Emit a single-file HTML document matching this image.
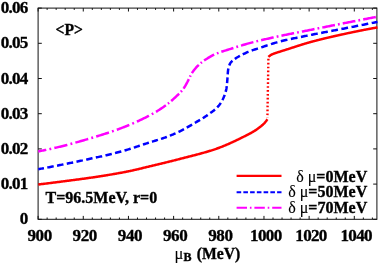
<!DOCTYPE html>
<html><head><meta charset="utf-8"><style>
html,body{margin:0;padding:0;background:#fff;}
svg{display:block;will-change:transform;}
text{font-family:"Liberation Serif",serif;font-weight:bold;font-size:15.3px;fill:#000;stroke:#000;stroke-width:0.35px;}
.ax{font-size:17.6px;}
.sym{font-weight:normal;stroke-width:0.1px;}
</style></head><body>
<svg width="382" height="267" viewBox="0 0 382 267">
<rect width="382" height="267" fill="#fff"/>
<g stroke="#111" stroke-width="1" fill="none">
<rect x="38.1" y="8.1" width="338.79999999999995" height="211.20000000000002" stroke-width="1"/>
<line x1="38.10" y1="219.3" x2="38.10" y2="215.9"/>
<line x1="38.10" y1="8.1" x2="38.10" y2="11.5"/>
<line x1="47.13" y1="219.3" x2="47.13" y2="217.5"/>
<line x1="47.13" y1="8.1" x2="47.13" y2="9.9"/>
<line x1="56.17" y1="219.3" x2="56.17" y2="217.5"/>
<line x1="56.17" y1="8.1" x2="56.17" y2="9.9"/>
<line x1="65.20" y1="219.3" x2="65.20" y2="217.5"/>
<line x1="65.20" y1="8.1" x2="65.20" y2="9.9"/>
<line x1="74.24" y1="219.3" x2="74.24" y2="217.5"/>
<line x1="74.24" y1="8.1" x2="74.24" y2="9.9"/>
<line x1="83.27" y1="219.3" x2="83.27" y2="215.9"/>
<line x1="83.27" y1="8.1" x2="83.27" y2="11.5"/>
<line x1="92.31" y1="219.3" x2="92.31" y2="217.5"/>
<line x1="92.31" y1="8.1" x2="92.31" y2="9.9"/>
<line x1="101.34" y1="219.3" x2="101.34" y2="217.5"/>
<line x1="101.34" y1="8.1" x2="101.34" y2="9.9"/>
<line x1="110.38" y1="219.3" x2="110.38" y2="217.5"/>
<line x1="110.38" y1="8.1" x2="110.38" y2="9.9"/>
<line x1="119.41" y1="219.3" x2="119.41" y2="217.5"/>
<line x1="119.41" y1="8.1" x2="119.41" y2="9.9"/>
<line x1="128.45" y1="219.3" x2="128.45" y2="215.9"/>
<line x1="128.45" y1="8.1" x2="128.45" y2="11.5"/>
<line x1="137.48" y1="219.3" x2="137.48" y2="217.5"/>
<line x1="137.48" y1="8.1" x2="137.48" y2="9.9"/>
<line x1="146.52" y1="219.3" x2="146.52" y2="217.5"/>
<line x1="146.52" y1="8.1" x2="146.52" y2="9.9"/>
<line x1="155.55" y1="219.3" x2="155.55" y2="217.5"/>
<line x1="155.55" y1="8.1" x2="155.55" y2="9.9"/>
<line x1="164.59" y1="219.3" x2="164.59" y2="217.5"/>
<line x1="164.59" y1="8.1" x2="164.59" y2="9.9"/>
<line x1="173.62" y1="219.3" x2="173.62" y2="215.9"/>
<line x1="173.62" y1="8.1" x2="173.62" y2="11.5"/>
<line x1="182.65" y1="219.3" x2="182.65" y2="217.5"/>
<line x1="182.65" y1="8.1" x2="182.65" y2="9.9"/>
<line x1="191.69" y1="219.3" x2="191.69" y2="217.5"/>
<line x1="191.69" y1="8.1" x2="191.69" y2="9.9"/>
<line x1="200.72" y1="219.3" x2="200.72" y2="217.5"/>
<line x1="200.72" y1="8.1" x2="200.72" y2="9.9"/>
<line x1="209.76" y1="219.3" x2="209.76" y2="217.5"/>
<line x1="209.76" y1="8.1" x2="209.76" y2="9.9"/>
<line x1="218.79" y1="219.3" x2="218.79" y2="215.9"/>
<line x1="218.79" y1="8.1" x2="218.79" y2="11.5"/>
<line x1="227.83" y1="219.3" x2="227.83" y2="217.5"/>
<line x1="227.83" y1="8.1" x2="227.83" y2="9.9"/>
<line x1="236.86" y1="219.3" x2="236.86" y2="217.5"/>
<line x1="236.86" y1="8.1" x2="236.86" y2="9.9"/>
<line x1="245.90" y1="219.3" x2="245.90" y2="217.5"/>
<line x1="245.90" y1="8.1" x2="245.90" y2="9.9"/>
<line x1="254.93" y1="219.3" x2="254.93" y2="217.5"/>
<line x1="254.93" y1="8.1" x2="254.93" y2="9.9"/>
<line x1="263.97" y1="219.3" x2="263.97" y2="215.9"/>
<line x1="263.97" y1="8.1" x2="263.97" y2="11.5"/>
<line x1="273.00" y1="219.3" x2="273.00" y2="217.5"/>
<line x1="273.00" y1="8.1" x2="273.00" y2="9.9"/>
<line x1="282.04" y1="219.3" x2="282.04" y2="217.5"/>
<line x1="282.04" y1="8.1" x2="282.04" y2="9.9"/>
<line x1="291.07" y1="219.3" x2="291.07" y2="217.5"/>
<line x1="291.07" y1="8.1" x2="291.07" y2="9.9"/>
<line x1="300.11" y1="219.3" x2="300.11" y2="217.5"/>
<line x1="300.11" y1="8.1" x2="300.11" y2="9.9"/>
<line x1="309.14" y1="219.3" x2="309.14" y2="215.9"/>
<line x1="309.14" y1="8.1" x2="309.14" y2="11.5"/>
<line x1="318.17" y1="219.3" x2="318.17" y2="217.5"/>
<line x1="318.17" y1="8.1" x2="318.17" y2="9.9"/>
<line x1="327.21" y1="219.3" x2="327.21" y2="217.5"/>
<line x1="327.21" y1="8.1" x2="327.21" y2="9.9"/>
<line x1="336.24" y1="219.3" x2="336.24" y2="217.5"/>
<line x1="336.24" y1="8.1" x2="336.24" y2="9.9"/>
<line x1="345.28" y1="219.3" x2="345.28" y2="217.5"/>
<line x1="345.28" y1="8.1" x2="345.28" y2="9.9"/>
<line x1="354.31" y1="219.3" x2="354.31" y2="215.9"/>
<line x1="354.31" y1="8.1" x2="354.31" y2="11.5"/>
<line x1="363.35" y1="219.3" x2="363.35" y2="217.5"/>
<line x1="363.35" y1="8.1" x2="363.35" y2="9.9"/>
<line x1="372.38" y1="219.3" x2="372.38" y2="217.5"/>
<line x1="372.38" y1="8.1" x2="372.38" y2="9.9"/>
<line x1="38.1" y1="219.30" x2="41.800000000000004" y2="219.30"/>
<line x1="376.9" y1="219.30" x2="373.2" y2="219.30"/>
<line x1="38.1" y1="184.10" x2="41.800000000000004" y2="184.10"/>
<line x1="376.9" y1="184.10" x2="373.2" y2="184.10"/>
<line x1="38.1" y1="148.90" x2="41.800000000000004" y2="148.90"/>
<line x1="376.9" y1="148.90" x2="373.2" y2="148.90"/>
<line x1="38.1" y1="113.70" x2="41.800000000000004" y2="113.70"/>
<line x1="376.9" y1="113.70" x2="373.2" y2="113.70"/>
<line x1="38.1" y1="78.50" x2="41.800000000000004" y2="78.50"/>
<line x1="376.9" y1="78.50" x2="373.2" y2="78.50"/>
<line x1="38.1" y1="43.30" x2="41.800000000000004" y2="43.30"/>
<line x1="376.9" y1="43.30" x2="373.2" y2="43.30"/>
<line x1="38.1" y1="8.10" x2="41.800000000000004" y2="8.10"/>
<line x1="376.9" y1="8.10" x2="373.2" y2="8.10"/>
</g>
<g fill="none" stroke-width="2.5" >
<path d="M38.30,184.50 L39.10,184.40 L39.90,184.31 L40.71,184.21 L41.51,184.11 L42.31,184.01 L43.11,183.91 L43.91,183.81 L44.72,183.71 L45.52,183.62 L46.32,183.52 L47.12,183.42 L47.92,183.32 L48.73,183.22 L49.53,183.12 L50.33,183.01 L51.13,182.91 L51.93,182.81 L52.73,182.71 L53.54,182.61 L54.34,182.51 L55.14,182.41 L55.94,182.31 L56.74,182.20 L57.54,182.10 L58.34,182.00 L59.15,181.90 L59.95,181.79 L60.75,181.69 L61.55,181.59 L62.35,181.48 L63.15,181.38 L63.95,181.28 L64.76,181.17 L65.56,181.07 L66.36,180.96 L67.16,180.86 L67.96,180.76 L68.76,180.65 L69.56,180.55 L70.36,180.44 L71.17,180.34 L71.97,180.23 L72.77,180.13 L73.57,180.02 L74.37,179.91 L75.17,179.81 L75.97,179.70 L76.77,179.60 L77.57,179.49 L78.38,179.39 L79.18,179.28 L79.98,179.18 L80.78,179.07 L81.58,178.97 L82.38,178.86 L83.18,178.75 L83.98,178.64 L84.78,178.54 L85.58,178.43 L86.38,178.32 L87.19,178.20 L87.99,178.09 L88.78,177.98 L89.58,177.86 L90.38,177.74 L91.18,177.63 L91.98,177.51 L92.78,177.39 L93.58,177.27 L94.38,177.15 L95.18,177.03 L95.98,176.91 L96.78,176.79 L97.58,176.66 L98.37,176.54 L99.17,176.42 L99.97,176.29 L100.77,176.17 L101.57,176.05 L102.37,175.92 L103.17,175.79 L103.97,175.67 L104.76,175.54 L105.56,175.41 L106.36,175.28 L107.16,175.15 L107.96,175.02 L108.75,174.89 L109.55,174.76 L110.35,174.62 L111.15,174.49 L111.94,174.36 L112.74,174.22 L113.54,174.08 L114.33,173.94 L115.13,173.81 L115.93,173.67 L116.72,173.53 L117.52,173.38 L118.31,173.24 L119.11,173.10 L119.90,172.95 L120.70,172.81 L121.49,172.66 L122.28,172.51 L123.08,172.36 L123.87,172.21 L124.66,172.06 L125.45,171.91 L126.25,171.75 L127.04,171.59 L127.83,171.44 L128.62,171.27 L129.41,171.11 L130.20,170.94 L130.99,170.77 L131.78,170.60 L132.57,170.42 L133.36,170.25 L134.14,170.07 L134.93,169.89 L135.72,169.71 L136.51,169.53 L137.29,169.34 L138.08,169.16 L138.87,168.97 L139.65,168.78 L140.44,168.60 L141.23,168.41 L142.01,168.22 L142.80,168.03 L143.59,167.84 L144.37,167.65 L145.16,167.46 L145.94,167.27 L146.73,167.08 L147.51,166.89 L148.30,166.71 L149.09,166.52 L149.87,166.33 L150.66,166.14 L151.45,165.96 L152.23,165.77 L153.02,165.58 L153.80,165.40 L154.59,165.21 L155.37,165.02 L156.16,164.83 L156.95,164.64 L157.73,164.45 L158.52,164.26 L159.30,164.07 L160.09,163.88 L160.87,163.69 L161.66,163.50 L162.44,163.31 L163.23,163.12 L164.01,162.93 L164.80,162.74 L165.58,162.54 L166.37,162.35 L167.15,162.16 L167.94,161.96 L168.72,161.77 L169.51,161.57 L170.29,161.38 L171.07,161.18 L171.86,160.98 L172.64,160.79 L173.42,160.59 L174.21,160.39 L174.99,160.19 L175.77,159.99 L176.56,159.79 L177.34,159.59 L178.12,159.39 L178.90,159.19 L179.68,158.98 L180.47,158.78 L181.25,158.58 L182.03,158.37 L182.82,158.17 L183.60,157.97 L184.38,157.77 L185.17,157.57 L185.95,157.37 L186.74,157.17 L187.52,156.97 L188.31,156.77 L189.09,156.57 L189.88,156.37 L190.67,156.17 L191.45,155.97 L192.24,155.77 L193.02,155.57 L193.81,155.37 L194.59,155.17 L195.38,154.96 L196.16,154.76 L196.95,154.55 L197.73,154.34 L198.51,154.14 L199.30,153.93 L200.08,153.72 L200.86,153.50 L201.64,153.29 L202.42,153.08 L203.20,152.86 L203.98,152.64 L204.75,152.42 L205.53,152.20 L206.31,151.97 L207.08,151.74 L207.85,151.51 L208.62,151.28 L209.40,151.05 L210.17,150.81 L210.93,150.57 L211.70,150.33 L212.47,150.08 L213.23,149.83 L213.99,149.58 L214.75,149.33 L215.51,149.07 L216.27,148.81 L217.03,148.54 L217.78,148.27 L218.54,147.99 L219.29,147.71 L220.04,147.43 L220.79,147.14 L221.54,146.85 L222.29,146.55 L223.04,146.25 L223.79,145.95 L224.54,145.64 L225.28,145.33 L226.03,145.02 L226.77,144.70 L227.52,144.38 L228.26,144.05 L229.00,143.73 L229.74,143.40 L230.48,143.06 L231.22,142.73 L231.96,142.39 L232.69,142.05 L233.43,141.71 L234.16,141.37 L234.90,141.02 L235.63,140.67 L236.36,140.32 L237.09,139.97 L237.82,139.61 L238.55,139.26 L239.28,138.90 L240.01,138.55 L240.74,138.19 L241.46,137.83 L242.19,137.47 L242.91,137.11 L243.64,136.74 L244.36,136.38 L245.08,136.02 L245.80,135.65 L246.52,135.29 L247.24,134.93 L247.96,134.56 L248.68,134.19 L249.40,133.81 L250.11,133.43 L250.83,133.05 L251.54,132.66 L252.24,132.26 L252.94,131.86 L253.64,131.45 L254.32,131.03 L255.00,130.60 L255.68,130.16 L256.35,129.72 L257.02,129.26 L257.69,128.80 L258.35,128.33 L259.01,127.85 L259.66,127.36 L260.30,126.86 L260.93,126.35 L261.55,125.83 L262.15,125.31 L262.75,124.77 L263.33,124.22 L263.91,123.64 L264.47,123.05 L265.01,122.45 L265.53,121.83 L266.03,121.20 L266.51,120.55 L266.96,119.88 L267.40,119.20" stroke="#ff0000"/>
<path d="M268.40,56.90 L268.68,56.63 L268.97,56.37 L269.26,56.12 L269.55,55.88 L269.86,55.65 L270.16,55.43 L270.48,55.22 L270.79,55.02 L271.11,54.84 L271.45,54.66 L271.79,54.50 L272.13,54.34 L272.48,54.19 L272.84,54.05 L273.19,53.91 L273.55,53.77 L273.91,53.64 L274.26,53.50 L274.62,53.37 L274.97,53.24 L275.33,53.12 L275.69,52.99 L276.05,52.87 L276.41,52.75 L276.77,52.63 L277.13,52.52 L277.49,52.40 L277.85,52.28 L278.21,52.17 L278.58,52.05 L278.94,51.94 L279.30,51.83 L279.66,51.71 L280.02,51.59 L280.38,51.48 L280.74,51.36 L281.11,51.24 L281.47,51.13 L281.83,51.01 L282.19,50.90 L282.55,50.78 L282.91,50.67 L283.28,50.56 L283.64,50.44 L284.00,50.33 L284.36,50.21 L284.72,50.10 L285.09,49.99 L285.45,49.87 L285.81,49.76 L286.17,49.65 L286.53,49.53 L286.89,49.42 L287.26,49.30 L287.62,49.19 L287.98,49.07 L288.34,48.96 L288.70,48.84 L289.06,48.72 L289.42,48.61 L289.79,48.49 L290.15,48.37 L290.51,48.26 L290.87,48.14 L291.23,48.02 L291.59,47.91 L291.95,47.79 L292.31,47.67 L292.68,47.55 L293.04,47.44 L293.40,47.32 L293.76,47.20 L294.12,47.09 L294.48,46.97 L294.84,46.85 L295.20,46.73 L295.56,46.62 L295.92,46.50 L296.29,46.38 L296.65,46.27 L297.01,46.15 L297.37,46.03 L297.73,45.92 L298.09,45.80 L298.45,45.68 L298.82,45.57 L299.18,45.45 L299.54,45.34 L299.90,45.22 L300.26,45.11 L300.62,44.99 L300.99,44.88 L301.35,44.77 L301.71,44.65 L302.07,44.54 L302.43,44.43 L302.80,44.31 L303.16,44.20 L303.52,44.09 L303.88,43.98 L304.25,43.87 L304.61,43.76 L304.97,43.65 L305.34,43.54 L305.70,43.43 L306.06,43.33 L306.43,43.22 L306.79,43.11 L307.15,43.01 L307.52,42.90 L307.88,42.80 L308.25,42.69 L308.61,42.59 L308.98,42.48 L309.34,42.38 L309.71,42.28 L310.07,42.18 L310.44,42.08 L310.80,41.98 L311.17,41.88 L311.53,41.78 L311.90,41.68 L312.26,41.58 L312.63,41.49 L313.00,41.39 L313.36,41.29 L313.73,41.19 L314.10,41.10 L314.46,41.00 L314.83,40.90 L315.20,40.81 L315.56,40.71 L315.93,40.61 L316.30,40.52 L316.66,40.42 L317.03,40.33 L317.40,40.24 L317.77,40.14 L318.13,40.05 L318.50,39.95 L318.87,39.86 L319.24,39.77 L319.60,39.67 L319.97,39.58 L320.34,39.49 L320.71,39.40 L321.08,39.31 L321.45,39.21 L321.81,39.12 L322.18,39.03 L322.55,38.94 L322.92,38.85 L323.29,38.76 L323.66,38.67 L324.03,38.58 L324.40,38.49 L324.76,38.40 L325.13,38.31 L325.50,38.22 L325.87,38.14 L326.24,38.05 L326.61,37.96 L326.98,37.87 L327.35,37.78 L327.72,37.70 L328.09,37.61 L328.46,37.52 L328.83,37.44 L329.20,37.35 L329.57,37.26 L329.94,37.18 L330.31,37.09 L330.68,37.00 L331.05,36.92 L331.42,36.83 L331.79,36.75 L332.16,36.66 L332.53,36.58 L332.90,36.49 L333.27,36.41 L333.64,36.32 L334.01,36.24 L334.38,36.16 L334.75,36.07 L335.12,35.99 L335.49,35.91 L335.86,35.82 L336.23,35.74 L336.60,35.66 L336.97,35.57 L337.34,35.49 L337.71,35.41 L338.08,35.33 L338.45,35.24 L338.82,35.16 L339.19,35.08 L339.56,35.00 L339.93,34.92 L340.30,34.83 L340.67,34.75 L341.04,34.67 L341.41,34.59 L341.78,34.51 L342.15,34.43 L342.52,34.35 L342.89,34.27 L343.26,34.19 L343.63,34.11 L344.00,34.03 L344.37,33.94 L344.74,33.86 L345.11,33.78 L345.49,33.71 L345.86,33.63 L346.23,33.55 L346.60,33.47 L346.97,33.39 L347.34,33.31 L347.71,33.23 L348.08,33.15 L348.45,33.07 L348.82,32.99 L349.19,32.91 L349.57,32.84 L349.94,32.76 L350.31,32.68 L350.68,32.60 L351.05,32.52 L351.42,32.45 L351.79,32.37 L352.16,32.29 L352.54,32.21 L352.91,32.14 L353.28,32.06 L353.65,31.98 L354.02,31.91 L354.39,31.83 L354.76,31.75 L355.14,31.68 L355.51,31.60 L355.88,31.52 L356.25,31.45 L356.62,31.37 L356.99,31.30 L357.37,31.22 L357.74,31.15 L358.11,31.07 L358.48,31.00 L358.85,30.92 L359.23,30.85 L359.60,30.77 L359.97,30.70 L360.34,30.63 L360.71,30.55 L361.09,30.48 L361.46,30.40 L361.83,30.33 L362.20,30.26 L362.58,30.18 L362.95,30.11 L363.32,30.04 L363.69,29.97 L364.07,29.89 L364.44,29.82 L364.81,29.75 L365.18,29.68 L365.56,29.60 L365.93,29.53 L366.30,29.46 L366.67,29.39 L367.05,29.32 L367.42,29.25 L367.79,29.18 L368.17,29.11 L368.54,29.04 L368.91,28.97 L369.28,28.90 L369.66,28.83 L370.03,28.76 L370.40,28.69 L370.78,28.62 L371.15,28.55 L371.52,28.48 L371.90,28.41 L372.27,28.34 L372.64,28.27 L373.02,28.20 L373.39,28.14 L373.76,28.07 L374.14,28.00 L374.51,27.93 L374.88,27.87 L375.26,27.80 L375.63,27.73 L376.00,27.67 L376.38,27.60 L376.75,27.53 L377.13,27.47 L377.50,27.40" stroke="#ff0000"/>
<path d="M268.4,58.85 L267.4,117.5" stroke="#ff0000" stroke-width="2.4" stroke-dasharray="1.7 2.2"/>
<path d="M38.30,169.20 L39.33,169.01 L40.36,168.82 L41.39,168.64 L42.42,168.45 L43.45,168.26 L43.95,168.16 M47.29,167.54 L48.21,167.36 L49.24,167.17 L50.27,166.97 L51.30,166.77 L52.33,166.57 L53.36,166.37 L53.71,166.30 M57.04,165.65 L57.98,165.47 L59.01,165.26 L60.04,165.06 L61.06,164.86 L62.09,164.65 L63.12,164.44 L63.45,164.38 M66.77,163.70 L67.74,163.51 L68.76,163.30 L69.79,163.09 L70.81,162.87 L71.84,162.66 L72.86,162.45 L73.16,162.39 M76.48,161.69 L77.48,161.48 L78.50,161.27 L79.53,161.05 L80.55,160.83 L81.57,160.61 L82.60,160.40 L82.85,160.34 M86.16,159.63 L87.08,159.43 L88.10,159.21 L89.12,158.99 L90.15,158.77 L91.17,158.55 L92.19,158.32 L92.52,158.25 M95.82,157.53 L96.80,157.32 L97.82,157.10 L98.85,156.87 L99.87,156.64 L100.89,156.42 L101.92,156.19 L102.16,156.13 M105.45,155.39 L106.39,155.17 L107.41,154.94 L108.43,154.70 L109.45,154.46 L110.47,154.21 L111.49,153.97 L111.77,153.90 M115.04,153.09 L116.06,152.83 L117.07,152.57 L118.08,152.31 L119.09,152.04 L120.10,151.77 L121.11,151.50 L121.32,151.44 M124.54,150.52 L125.51,150.23 L126.51,149.93 L127.51,149.63 L128.51,149.32 L129.51,149.01 L130.51,148.69 L130.68,148.64 M133.83,147.62 L134.74,147.32 L135.74,146.99 L136.73,146.66 L137.73,146.33 L138.72,146.00 L139.72,145.67 L139.84,145.63 M142.95,144.60 L143.82,144.31 L144.82,143.98 L145.81,143.65 L146.81,143.33 L147.81,143.00 L148.80,142.68 L148.89,142.65 M151.97,141.68 L152.93,141.39 L153.93,141.08 L154.93,140.78 L155.94,140.47 L156.94,140.17 L157.92,139.87 M160.99,138.91 L161.94,138.60 L162.93,138.27 L163.92,137.93 L164.91,137.59 L165.89,137.23 L166.85,136.87 M169.85,135.71 L170.77,135.34 L171.74,134.94 L172.71,134.53 L173.67,134.12 L174.63,133.70 L175.54,133.30 M178.45,131.96 L179.39,131.51 L180.32,131.05 L181.26,130.58 L182.19,130.11 L183.11,129.62 L183.96,129.17 M186.76,127.62 L187.58,127.15 L188.49,126.63 L189.40,126.10 L190.31,125.57 L191.22,125.05 L192.09,124.54 M194.83,122.94 L195.63,122.48 L196.54,121.95 L197.44,121.42 L198.35,120.89 L199.25,120.36 L200.08,119.87 M202.75,118.23 L203.60,117.69 L204.48,117.12 L205.35,116.55 L206.22,115.96 L207.09,115.37 L207.74,114.91 M210.26,113.11 L211.03,112.55 L211.88,111.93 L212.72,111.31 L213.54,110.66 L214.36,110.01 L214.95,109.50 M217.20,107.43 L217.89,106.70 L218.59,105.92 L219.26,105.10 L219.89,104.26 L220.46,103.40 L220.83,102.82 M222.36,100.18 L222.82,99.29 L223.28,98.34 L223.71,97.38 L224.10,96.42 L224.46,95.45 L224.69,94.81 M225.64,91.92 L225.91,90.94 L226.16,89.92 L226.37,88.90 L226.53,87.87 L226.67,86.84 L226.76,86.18 M227.06,83.15 L227.15,82.15 L227.23,81.10 L227.32,80.05 L227.41,79.01 L227.49,77.96 L227.54,77.32 M227.72,74.28 L227.80,73.24 L227.88,72.19 L227.98,71.16 L228.10,70.13 L228.26,69.10 L228.39,68.47 M229.24,65.56 L229.62,64.61 L230.04,63.69 L230.51,62.85 L231.12,62.06 L231.86,61.31 L232.46,60.79 M234.86,58.95 L235.68,58.37 L236.55,57.80 L237.45,57.26 L238.36,56.73 L239.29,56.22 L239.94,55.87 M242.76,54.41 L243.60,53.99 L244.54,53.53 L245.49,53.08 L246.44,52.64 L247.40,52.21 L248.36,51.80 L248.51,51.74 M251.67,50.51 L252.64,50.18 L253.63,49.85 L254.63,49.54 L255.64,49.23 L256.64,48.91 L257.63,48.59 L257.96,48.49 M261.24,47.40 L262.24,47.06 L263.23,46.73 L264.22,46.39 L265.22,46.06 L266.21,45.72 L267.21,45.39 L267.61,45.26 M270.95,44.16 L271.94,43.84 L272.94,43.53 L273.94,43.22 L274.94,42.92 L275.94,42.62 L276.95,42.33 L277.43,42.19 M280.83,41.29 L281.74,41.06 L282.75,40.81 L283.77,40.56 L284.79,40.32 L285.81,40.09 L286.83,39.85 L287.43,39.72 M290.86,38.96 L291.81,38.76 L292.84,38.54 L293.86,38.33 L294.89,38.12 L295.92,37.91 L296.95,37.70 L297.50,37.59 M300.95,36.90 L301.96,36.70 L302.99,36.50 L304.02,36.29 L305.05,36.09 L306.07,35.89 L307.10,35.68 L307.60,35.58 M311.05,34.89 L311.98,34.70 L313.01,34.50 L314.03,34.29 L315.06,34.09 L316.09,33.89 L317.12,33.69 L317.70,33.57 M321.16,32.91 L322.13,32.72 L323.16,32.52 L324.19,32.33 L325.21,32.13 L326.24,31.93 L327.27,31.74 L327.82,31.64 M331.28,30.98 L332.29,30.79 L333.32,30.59 L334.34,30.39 L335.37,30.20 L336.40,30.00 L337.43,29.80 L337.93,29.70 M341.39,29.03 L342.31,28.85 L343.34,28.65 L344.37,28.45 L345.40,28.25 L346.42,28.04 L347.45,27.84 L348.04,27.73 M351.49,27.05 L352.46,26.86 L353.49,26.66 L354.52,26.45 L355.54,26.25 L356.57,26.05 L357.60,25.85 L358.15,25.74 M361.60,25.06 L362.61,24.86 L363.63,24.66 L364.66,24.45 L365.69,24.25 L366.72,24.04 L367.74,23.84 L368.25,23.74 M371.70,23.06 L372.62,22.87 L373.65,22.67 L374.68,22.46 L375.70,22.26 L376.73,22.05 L377.50,21.90" stroke="#0000ff"/>
<path d="M38.30,151.40 L39.28,151.21 L40.27,151.02 L41.25,150.82 L42.24,150.63 L43.22,150.43 L44.20,150.23 L45.18,150.03 L46.16,149.82 L46.24,149.80 M49.37,149.14 L50.33,148.93 L51.23,148.73 M54.35,148.03 L55.21,147.83 L56.19,147.60 L57.17,147.38 L58.14,147.15 L59.11,146.91 L60.09,146.68 L61.06,146.44 L62.03,146.20 L63.00,145.96 L63.97,145.72 L64.94,145.47 L65.91,145.22 L66.88,144.97 L67.36,144.84 M70.46,144.02 L71.36,143.77 L72.29,143.52 M75.37,142.66 L76.31,142.40 L77.28,142.13 L78.24,141.85 L79.21,141.58 L80.17,141.30 L81.13,141.02 L82.09,140.74 L83.06,140.46 L84.02,140.18 L84.98,139.89 L85.94,139.61 L86.90,139.33 L87.86,139.04 L88.24,138.93 M91.31,138.01 L92.18,137.75 L93.13,137.46 M96.19,136.53 L97.10,136.26 L98.06,135.96 L99.02,135.67 L99.97,135.37 L100.93,135.07 L101.89,134.78 L102.85,134.47 L103.81,134.17 L104.76,133.87 L105.72,133.56 L106.67,133.25 L107.63,132.94 L108.58,132.63 L108.97,132.50 M112.00,131.48 L112.85,131.18 L113.79,130.85 M116.81,129.78 L117.68,129.46 L118.62,129.12 L119.55,128.77 L120.49,128.42 L121.42,128.06 L122.35,127.70 L123.28,127.34 L124.22,126.97 L125.15,126.60 L126.08,126.23 L127.01,125.85 L127.94,125.47 L128.87,125.09 L129.29,124.92 M132.24,123.67 L133.15,123.28 L133.98,122.92 M136.91,121.62 L137.75,121.24 L138.66,120.82 L139.57,120.39 L140.48,119.97 L141.39,119.54 L142.29,119.10 L143.19,118.67 L144.09,118.23 L144.99,117.78 L145.88,117.33 L146.77,116.88 L147.66,116.43 L148.55,115.97 L148.96,115.75 M151.76,114.25 L152.61,113.78 L153.37,113.35 M156.00,111.81 L156.84,111.31 L157.69,110.78 L158.55,110.25 L159.40,109.71 L160.24,109.16 L161.08,108.61 L161.92,108.05 L162.75,107.49 L163.57,106.92 L164.39,106.34 L165.20,105.76 L165.86,105.28 M167.95,103.69 L168.67,103.11 L169.15,102.73 M171.14,101.06 L171.84,100.44 L172.60,99.78 L173.34,99.10 L174.08,98.43 L174.82,97.75 L175.55,97.06 L176.27,96.38 L177.01,95.69 L177.74,94.99 L178.47,94.29 L179.09,93.68 M180.89,91.81 L181.53,91.11 L181.92,90.67 M183.52,88.63 L184.03,87.89 L184.57,87.05 L185.09,86.19 L185.59,85.32 L186.08,84.44 L186.56,83.55 L187.04,82.66 L187.52,81.78 L187.98,80.89 L188.43,79.99 L188.83,79.17 M189.94,76.83 L190.33,76.02 L190.62,75.45 M191.88,73.19 L192.35,72.45 L192.92,71.63 L193.51,70.81 L194.12,70.01 L194.75,69.23 L195.40,68.45 L196.06,67.70 L196.72,66.96 L197.41,66.23 L198.11,65.51 L198.79,64.85 M200.73,63.13 L201.48,62.51 L201.94,62.15 M204.10,60.59 L204.83,60.09 L205.67,59.54 L206.51,58.99 L207.35,58.45 L208.20,57.91 L209.06,57.39 L209.92,56.88 L210.79,56.39 L211.67,55.91 L212.56,55.43 L213.45,54.97 L214.19,54.61 M216.88,53.42 L217.80,53.07 L218.53,52.80 M221.33,51.81 L222.17,51.53 L223.13,51.22 L224.08,50.92 L225.04,50.62 L226.00,50.32 L226.95,50.03 L227.91,49.73 L228.87,49.43 L229.82,49.13 L230.78,48.82 L231.73,48.52 L232.69,48.22 L233.40,47.99 M236.33,47.06 L237.23,46.77 L238.07,46.51 M241.00,45.60 L241.90,45.33 L242.85,45.04 L243.81,44.75 L244.77,44.47 L245.74,44.19 L246.70,43.91 L247.66,43.64 L248.63,43.37 L249.59,43.11 L250.56,42.85 L251.53,42.60 L252.49,42.35 L253.38,42.12 M256.36,41.37 L257.23,41.15 L258.13,40.93 M261.12,40.22 L261.98,40.01 L262.95,39.78 L263.93,39.56 L264.91,39.33 L265.88,39.11 L266.86,38.89 L267.84,38.66 L268.82,38.45 L269.80,38.23 L270.78,38.01 L271.75,37.79 L272.73,37.58 L273.67,37.37 M276.67,36.72 L277.63,36.51 L278.45,36.33 M281.45,35.69 L282.40,35.49 L283.38,35.28 L284.37,35.08 L285.35,34.88 L286.33,34.67 L287.31,34.47 L288.29,34.27 L289.27,34.08 L290.26,33.88 L291.24,33.68 L292.22,33.49 L293.20,33.30 L294.06,33.13 M297.07,32.54 L298.00,32.36 L298.86,32.19 M301.88,31.60 L302.79,31.42 L303.78,31.23 L304.76,31.04 L305.74,30.84 L306.73,30.65 L307.71,30.46 L308.69,30.26 L309.67,30.07 L310.66,29.87 L311.64,29.67 L312.62,29.48 L313.60,29.28 L314.50,29.10 M317.51,28.49 L318.39,28.32 L319.30,28.14 M322.31,27.53 L323.18,27.36 L324.16,27.16 L325.15,26.96 L326.13,26.76 L327.11,26.57 L328.09,26.37 L329.08,26.17 L330.06,25.98 L331.04,25.78 L332.02,25.58 L333.00,25.39 L333.99,25.19 L334.92,25.01 M337.94,24.41 L338.90,24.22 L339.73,24.05 M342.74,23.46 L343.69,23.27 L344.68,23.08 L345.66,22.89 L346.64,22.69 L347.63,22.50 L348.61,22.31 L349.59,22.11 L350.57,21.92 L351.56,21.73 L352.54,21.54 L353.52,21.34 L354.51,21.15 L355.36,20.98 M358.38,20.40 L359.30,20.22 L360.17,20.05 M363.19,19.46 L364.10,19.28 L365.08,19.09 L366.06,18.90 L367.05,18.71 L368.03,18.52 L369.01,18.33 L370.00,18.14 L370.98,17.95 L371.97,17.76 L372.95,17.57 L373.93,17.38 L374.92,17.20 L375.82,17.02" stroke="#ff00ff"/>
</g>

<g><text transform="translate(39.64,240.6) scale(0.97,1)" text-anchor="middle" class="ax" style="letter-spacing:-0.42px">900</text>
<text transform="translate(84.81,240.6) scale(0.97,1)" text-anchor="middle" class="ax" style="letter-spacing:-0.42px">920</text>
<text transform="translate(129.99,240.6) scale(0.97,1)" text-anchor="middle" class="ax" style="letter-spacing:-0.42px">940</text>
<text transform="translate(175.16,240.6) scale(0.97,1)" text-anchor="middle" class="ax" style="letter-spacing:-0.42px">960</text>
<text transform="translate(220.33,240.6) scale(0.97,1)" text-anchor="middle" class="ax" style="letter-spacing:-0.42px">980</text>
<text transform="translate(265.82,240.6) scale(0.97,1)" text-anchor="middle" class="ax" style="letter-spacing:-0.7px">1000</text>
<text transform="translate(310.99,240.6) scale(0.97,1)" text-anchor="middle" class="ax" style="letter-spacing:-0.7px">1020</text>
<text transform="translate(356.16,240.6) scale(0.97,1)" text-anchor="middle" class="ax" style="letter-spacing:-0.7px">1040</text></g>
<g><text transform="translate(27.5,224.40) scale(0.97,1)" text-anchor="end" class="ax" style="letter-spacing:-0.78px">0</text>
<text transform="translate(27.5,189.20) scale(0.97,1)" text-anchor="end" class="ax" style="letter-spacing:-0.78px">0.01</text>
<text transform="translate(27.5,154.00) scale(0.97,1)" text-anchor="end" class="ax" style="letter-spacing:-0.78px">0.02</text>
<text transform="translate(27.5,118.80) scale(0.97,1)" text-anchor="end" class="ax" style="letter-spacing:-0.78px">0.03</text>
<text transform="translate(27.5,83.60) scale(0.97,1)" text-anchor="end" class="ax" style="letter-spacing:-0.78px">0.04</text>
<text transform="translate(27.5,48.40) scale(0.97,1)" text-anchor="end" class="ax" style="letter-spacing:-0.78px">0.05</text>
<text transform="translate(27.5,13.20) scale(0.97,1)" text-anchor="end" class="ax" style="letter-spacing:-0.78px">0.06</text></g>
<text transform="translate(55.6,34.8) scale(0.92,1)" style="font-size:17px">&lt;P&gt;</text>
<text x="45.5" y="203.2" style="font-size:16px">T=96.5MeV, r=0</text>
<text x="174.4" y="258.7" class="sym" style="font-size:16.5px">μ</text>
<text x="183.5" y="261.1" style="font-size:12px">B</text>
<text x="196.8" y="258.8" style="font-size:15.7px">(MeV)</text>
<g stroke-width="2.1" fill="none">
<line x1="236.6" y1="175.9" x2="281.5" y2="175.9" stroke="#ff0000"/>
<line x1="236.6" y1="192.2" x2="281.5" y2="192.2" stroke="#0000ff" stroke-dasharray="4.6 2.15"/>
<line x1="236.6" y1="207.7" x2="281.5" y2="207.7" stroke="#ff00ff" stroke-dasharray="10.4 2.9 1.6 2.9"/>
</g>
<g style="font-size:16px" text-anchor="end">
<text x="367.2" y="181.7" style="font-size:16px"><tspan class="sym">δ μ</tspan>=0MeV</text>
<text x="367.2" y="197.2" style="font-size:16px"><tspan class="sym">δ μ</tspan>=50MeV</text>
<text x="367.2" y="212.6" style="font-size:16px"><tspan class="sym">δ μ</tspan>=70MeV</text>
</g>
</svg>
</body></html>
